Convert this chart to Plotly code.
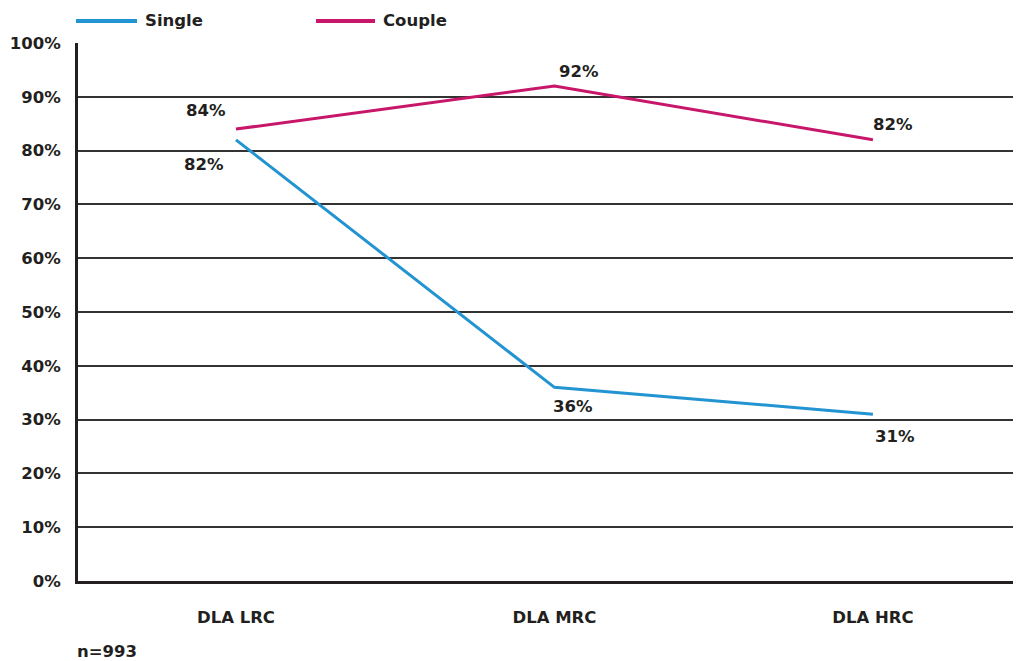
import plotly.graph_objects as go

categories = ["DLA LRC", "DLA MRC", "DLA HRC"]
single = [82, 36, 31]
couple = [84, 92, 82]
y_ticks = [0, 10, 20, 30, 40, 50, 60, 70, 80, 90, 100]
y_tick_labels = [f"{v}%" for v in y_ticks]
note = "n=993"

BLUE = "#2394D2"
MAGENTA = "#C8166A"
TEXT = "#231F20"
FONT = "DejaVu Sans"
FS = 16.5

# the page body has an 8px margin; the figure is sized to fill the rest
OFF = 8
W, H = 1021 - OFF, 661 - OFF
ML, MT = 78 - OFF, 43 - OFF
MR, MB = 0, H - (581 - OFF)
pw, ph = W - ML - MR, H - MT - MB

def px_x(p):
    return (p - OFF - ML) / pw

def px_y(p):
    return (H - MB - (p - OFF)) / ph

fig = go.Figure()
fig.add_trace(go.Scatter(x=categories, y=single, mode="lines", name="Single",
                         line=dict(color=BLUE, width=3), showlegend=False))
fig.add_trace(go.Scatter(x=categories, y=couple, mode="lines", name="Couple",
                         line=dict(color=MAGENTA, width=3), showlegend=False))

bold = dict(family=FONT, size=FS, color=TEXT, weight="bold")

# data labels
single_shift = [(-32, -25), (19, -19), (22, -22)]
couple_shift = [(-30, 19), (25, 15), (20, 15)]
for series, shifts in ((single, single_shift), (couple, couple_shift)):
    for c, v, (dx, dy) in zip(categories, series, shifts):
        fig.add_annotation(x=c, y=v, xref="x", yref="y", text=f"{v}%",
                           showarrow=False, xshift=dx, yshift=dy, font=bold)

# manual legend
legend_items = [("Single", BLUE, 76, 137, 143), ("Couple", MAGENTA, 316, 375, 381)]
for name, col, x0, x1, tx in legend_items:
    fig.add_shape(type="line", xref="paper", yref="paper",
                  x0=px_x(x0), x1=px_x(x1), y0=px_y(21), y1=px_y(21),
                  line=dict(color=col, width=4))
    fig.add_annotation(xref="paper", yref="paper", x=px_x(tx), y=px_y(21),
                       text=name, showarrow=False, xanchor="left", yanchor="middle",
                       font=bold)

fig.add_annotation(xref="paper", yref="paper", x=px_x(75), y=px_y(651),
                   text=note, showarrow=False, xanchor="left", yanchor="middle",
                   font=bold)

fig.update_layout(
    width=W, height=H,
    margin=dict(l=ML, r=MR, t=MT, b=MB, pad=0),
    paper_bgcolor="white", plot_bgcolor="white",
    font=dict(family=FONT, size=FS, color=TEXT),
    xaxis=dict(range=[-0.496, 2.465], showgrid=False, zeroline=False,
               showline=True, linecolor="#231F20", linewidth=3,
               ticks="", ticklabelstandoff=19, tickfont=bold),
    yaxis=dict(range=[0, 100], tickvals=y_ticks, ticktext=y_tick_labels,
               showgrid=True, gridcolor="#333333", gridwidth=1.5,
               zeroline=False, showline=True, linecolor="#231F20", linewidth=3,
               ticks="", ticklabelstandoff=11, tickfont=bold),
)

fig.write_html("out.html")
